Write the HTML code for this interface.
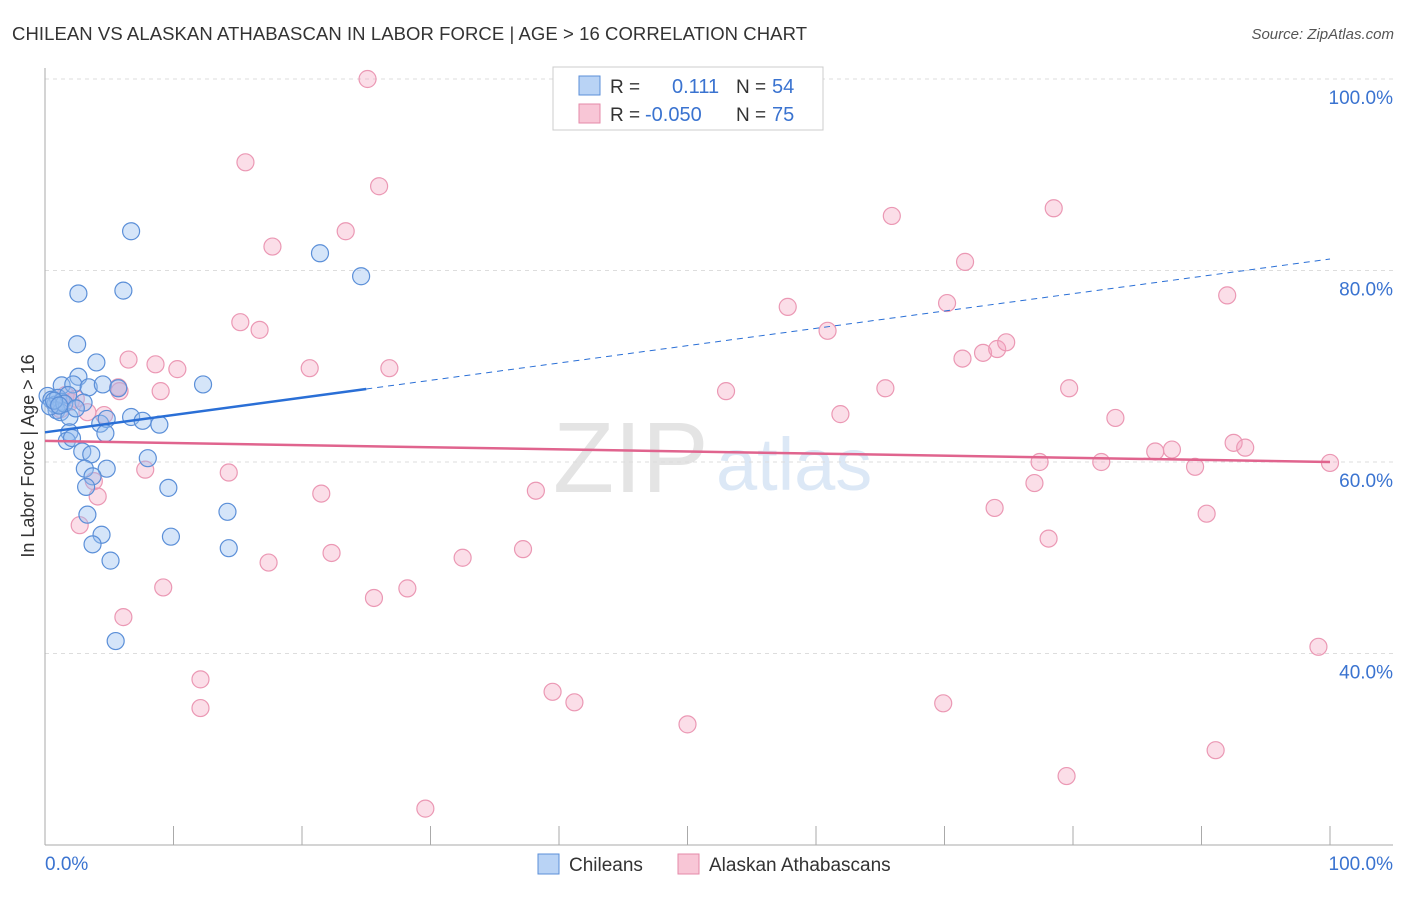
<!DOCTYPE html>
<html><head><meta charset="utf-8"><style>
body{margin:0;background:#fff;font-family:"Liberation Sans",sans-serif}
svg text{font-family:"Liberation Sans",sans-serif}
</style></head><body>
<svg id="c" width="1406" height="892">
<text x="12" y="40" font-size="18.5" fill="#333" textLength="795">CHILEAN VS ALASKAN ATHABASCAN IN LABOR FORCE | AGE &gt; 16 CORRELATION CHART</text>
<text x="1394" y="39" font-size="15" fill="#555" font-style="italic" text-anchor="end">Source: ZipAtlas.com</text>
<text x="553" y="492" font-size="100" fill="#e4e4e4" font-family="Liberation Serif">ZIP</text>
<text x="716" y="490" font-size="74" fill="#dce8f6">atlas</text>
<text transform="translate(34,456) rotate(-90)" font-size="18" fill="#333" text-anchor="middle">In Labor Force | Age &gt; 16</text>
<g id="grid"></g><g id="pts"></g><g id="trend"></g>
<g>
<rect x="553" y="67" width="270" height="63" fill="#fff" stroke="#ccc"/>
<rect x="579" y="76" width="21" height="19" fill="#b9d3f5" stroke="#5b8fd8"/>
<rect x="579" y="104" width="21" height="19" fill="#f8c6d6" stroke="#e58aa8"/>
<text x="610" y="93" font-size="19" fill="#333">R =</text><text x="672" y="93" font-size="20" fill="#3a73d0">0.111</text>
<text x="736" y="93" font-size="19" fill="#333">N =</text><text x="772" y="93" font-size="20" fill="#3a73d0">54</text>
<text x="610" y="121" font-size="19" fill="#333">R =</text><text x="645" y="121" font-size="20" fill="#3a73d0">-0.050</text>
<text x="736" y="121" font-size="19" fill="#333">N =</text><text x="772" y="121" font-size="20" fill="#3a73d0">75</text>
</g>
<g>
<rect x="538" y="854" width="21" height="20" fill="#b9d3f5" stroke="#5b8fd8"/>
<text x="569" y="871" font-size="19" fill="#333">Chileans</text>
<rect x="678" y="854" width="21" height="20" fill="#f8c6d6" stroke="#e58aa8"/>
<text x="709" y="871" font-size="19" fill="#333">Alaskan Athabascans</text>
</g>
</svg>
<script>
const blueX=[6.7,21.4,24.6,2.6,6.1,2.5,4.0,2.6,1.3,2.2,3.4,4.5,5.7,12.3,0.2,0.5,0.8,1.0,1.3,0.9,1.2,3.0,1.8,1.9,4.3,4.8,6.7,7.6,8.9,1.9,1.7,2.1,4.7,2.9,3.6,8.0,3.1,4.8,3.7,3.2,9.6,3.3,14.2,4.4,9.8,3.7,14.3,5.1,5.5,0.4,1.5,2.4,0.7,1.1];
const blueY=[84.1,81.8,79.4,77.6,77.9,72.3,70.4,68.9,68.0,68.1,67.8,68.1,67.7,68.1,66.9,66.5,66.0,66.7,66.3,65.4,65.2,66.2,67.0,64.7,64.0,64.5,64.7,64.3,63.9,63.1,62.2,62.5,63.0,61.1,60.8,60.4,59.3,59.3,58.5,57.4,57.3,54.5,54.8,52.4,52.2,51.4,51.0,49.7,41.3,65.8,66.1,65.6,66.4,65.9];
const pinkX=[25.1,15.6,26.0,17.7,23.4,65.9,78.5,71.6,57.8,70.2,92.0,15.2,16.7,60.9,6.5,8.6,10.3,20.6,26.8,71.4,73.0,74.1,74.8,5.7,5.8,9.0,53.0,65.4,79.7,1.6,2.0,3.3,4.6,61.9,83.3,92.5,93.4,86.4,87.7,77.4,82.2,89.5,100,14.3,7.8,3.8,4.1,21.5,38.2,77.0,73.9,90.4,2.7,22.3,37.2,32.5,17.4,78.1,9.2,28.2,25.6,6.1,99.1,12.1,12.1,39.5,41.2,50.0,69.9,91.1,79.5,29.6,0.8,1.2,2.4];
const pinkY=[100,91.3,88.8,82.5,84.1,85.7,86.5,80.9,76.2,76.6,77.4,74.6,73.8,73.7,70.7,70.2,69.7,69.8,69.8,70.8,71.4,71.8,72.5,67.8,67.4,67.4,67.4,67.7,67.7,67.0,66.3,65.2,64.9,65.0,64.6,62.0,61.5,61.1,61.3,60.0,60.0,59.5,59.9,58.9,59.2,58.0,56.4,56.7,57.0,57.8,55.2,54.6,53.4,50.5,50.9,50.0,49.5,52.0,46.9,46.8,45.8,43.8,40.7,37.3,34.3,36.0,34.9,32.6,34.8,29.9,27.2,23.8,66.0,65.5,66.6];
const yTicks=[100,80,60,40];
const blueTrend=[63.1,81.2];
const pinkTrend=[62.2,60.0];
const NS='http://www.w3.org/2000/svg';
const X=v=>45+v*12.85, Y=v=>79+(100-v)*9.575;
function mk(t,a,p){const e=document.createElementNS(NS,t);for(const k in a)e.setAttribute(k,a[k]);p.appendChild(e);return e;}
const g=document.getElementById('grid');
yTicks.forEach(t=>{
 const l=mk('line',{x1:45,x2:1393,y1:Y(t),y2:Y(t),stroke:'#ddd','stroke-dasharray':'4,4'},g);
 
 
 const tx=mk('text',{x:1393,y:Y(t)+25,'font-size':19,fill:'#3a73d0','text-anchor':'end'},g);
 tx.textContent=t.toFixed(1)+'%';
 
 
});
const ax=mk('line',{x1:45,x2:45,y1:68,y2:845,stroke:'#aaa'},g);


const bx=mk('line',{x1:45,x2:1393,y1:845,y2:845,stroke:'#aaa'},g);


for(let i=0;i<=10;i++){const t=mk('line',{x1:X(i*10),x2:X(i*10),y1:826,y2:845,stroke:'#aaa'},g);
 
 }
[[0,'0.0%','start',45],[100,'100.0%','end',1393]].forEach(d=>{const t=mk('text',{x:d[3],y:870,'font-size':19,fill:'#3a73d0','text-anchor':d[2]},g);t.textContent=d[1];
 
 });
const p=document.getElementById('pts');
pinkX.forEach((x,i)=>{const c=mk('circle',{cx:X(x),cy:Y(pinkY[i]),r:8.5,fill:'rgba(244,160,188,0.35)',stroke:'#eb98b4','stroke-width':1.2},p);
 
 });
blueX.forEach((x,i)=>{const c=mk('circle',{cx:X(x),cy:Y(blueY[i]),r:8.5,fill:'rgba(150,190,240,0.4)',stroke:'#5b8fd8','stroke-width':1.2},p);
 
 });
const tr=document.getElementById('trend');
const bAt=x=>blueTrend[0]+(blueTrend[1]-blueTrend[0])*x/100;
const b1=mk('line',{x1:X(0),y1:Y(bAt(0)),x2:X(25),y2:Y(bAt(25)),stroke:'#2a6fd6','stroke-width':2.5},tr);


const b2=mk('line',{x1:X(25),y1:Y(bAt(25)),x2:X(100),y2:Y(bAt(100)),stroke:'#2a6fd6','stroke-width':1,'stroke-dasharray':'6,5'},tr);


const p1=mk('line',{x1:X(0),y1:Y(pinkTrend[0]),x2:X(100),y2:Y(pinkTrend[1]),stroke:'#e0648e','stroke-width':2.5},tr);


</script>
</body></html>
